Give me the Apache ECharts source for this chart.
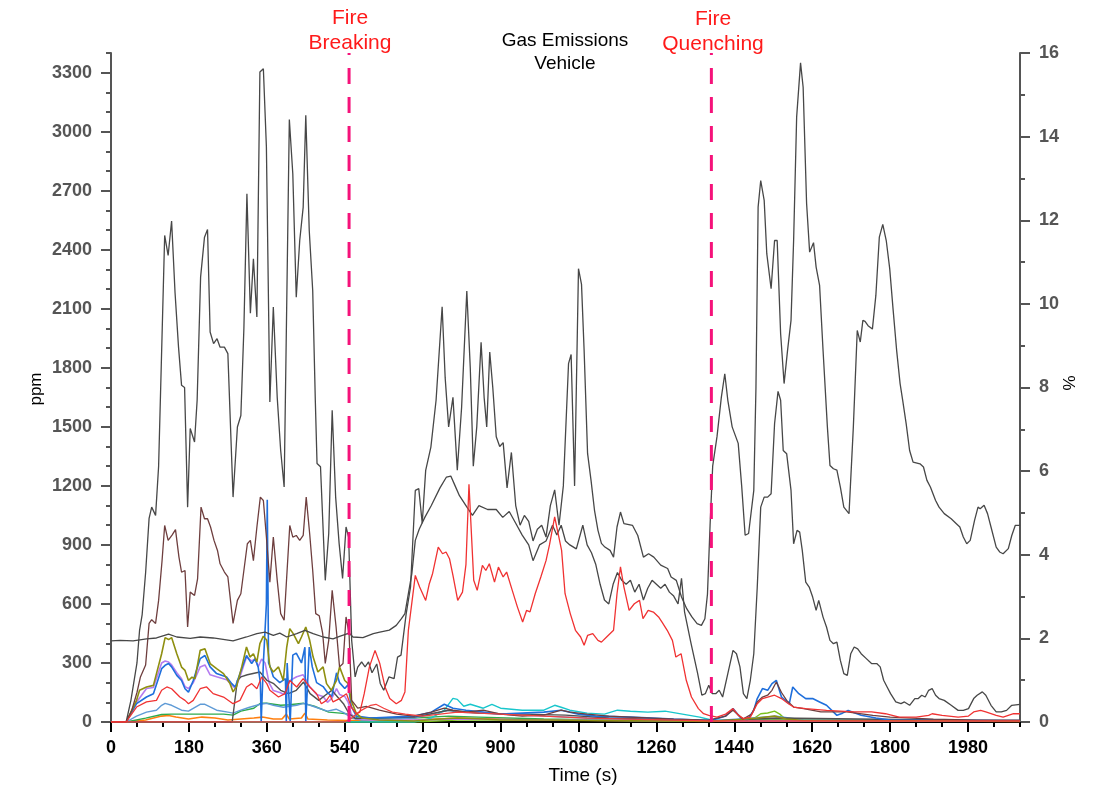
<!DOCTYPE html>
<html>
<head>
<meta charset="utf-8">
<script src="https://cdn.jsdelivr.net/npm/echarts@6/dist/echarts.min.js"></script>
<style>
html,body{margin:0;padding:0;background:#fff;}
#chart{width:1094px;height:790px;}
</style>
</head>
<body>
<div id="chart"></div>
<script>
// Axis ticks
const timeTicks = [0,180,360,540,720,900,1080,1260,1440,1620,1800,1980];
const ppmTicks = [0,300,600,900,1200,1500,1800,2100,2400,2700,3000,3300];
const pctTicks = [0,2,4,6,8,10,12,14,16];

// Event markers (s)
const fireBreaking = 550;
const fireQuenching = 1387;

// Measured traces: [time (s), ppm]
const grayHigh = [[0,0],[35,0],[46,110],[60,300],[66,466],[72,546],[80,760],[88,1035],[94,1092],[103,1050],[110,1300],[116,1800],[124,2473],[132,2371],[140,2546],[148,2180],[156,1905],[163,1711],[170,1700],[177,1092],[183,1492],[193,1423],[199,1635],[207,2261],[216,2464],[223,2503],[229,1982],[237,1923],[245,1948],[252,1905],[262,1905],[270,1872],[282,1143],[292,1499],[300,1558],[307,2000],[314,2685],[322,2078],[329,2354],[337,2058],[344,3303],[352,3320],[359,2922],[367,1626],[375,2109],[384,1650],[392,1380],[400,1194],[412,3062],[420,2786],[428,2159],[436,2447],[444,2617],[450,3083],[458,2498],[466,2193],[472,1635],[476,1314],[484,1297],[495,720],[503,958],[511,1584],[519,1143],[527,908],[535,730],[543,991],[549,940],[556,415],[564,229],[570,279],[579,305],[587,280],[595,305],[603,250],[614,295],[622,196],[630,161],[642,229],[654,220],[662,330],[670,340],[682,551],[692,686],[703,1177],[711,1186],[719,1010],[727,1279],[739,1397],[751,1635],[765,2110],[772,1750],[780,1500],[790,1650],[800,1280],[810,1600],[822,2190],[830,1800],[837,1300],[845,1500],[855,1930],[862,1650],[868,1500],[875,1880],[882,1700],[890,1450],[898,1400],[906,1420],[915,1190],[925,1370],[935,1100],[945,1000],[955,1050],[965,1020],[975,920],[985,980],[995,1000],[1005,940],[1015,1100],[1025,1180],[1035,1000],[1045,1200],[1057,1821],[1063,1868],[1071,1200],[1080,2304],[1087,2224],[1093,1889],[1101,1365],[1109,1228],[1117,1076],[1125,974],[1133,908],[1141,889],[1153,872],[1161,838],[1169,991],[1177,1067],[1185,1008],[1205,999],[1217,948],[1230,838],[1242,855],[1254,838],[1270,797],[1286,780],[1294,737],[1306,720],[1318,635],[1330,576],[1342,534],[1354,500],[1364,491],[1372,525],[1378,650],[1384,1000],[1390,1300],[1400,1450],[1410,1650],[1418,1770],[1425,1635],[1435,1500],[1449,1416],[1457,1200],[1465,949],[1473,958],[1485,1177],[1490,1700],[1495,2617],[1501,2752],[1509,2651],[1515,2380],[1525,2202],[1533,2447],[1539,2447],[1547,1973],[1555,1720],[1563,1889],[1571,2041],[1577,2447],[1584,3074],[1593,3350],[1599,3226],[1607,2635],[1614,2388],[1623,2436],[1629,2312],[1637,2219],[1645,1889],[1655,1500],[1661,1304],[1669,1287],[1677,1280],[1685,1194],[1693,1092],[1705,1059],[1715,1500],[1724,1990],[1731,1931],[1737,2041],[1742,2036],[1749,2014],[1759,1997],[1767,2168],[1775,2464],[1783,2529],[1791,2447],[1799,2304],[1807,2092],[1815,1889],[1823,1720],[1829,1635],[1837,1516],[1845,1380],[1853,1321],[1869,1312],[1877,1296],[1885,1228],[1893,1194],[1905,1126],[1913,1092],[1925,1059],[1941,1033],[1953,1008],[1961,991],[1969,940],[1977,906],[1985,923],[1995,1025],[2003,1092],[2008,1084],[2017,1101],[2025,1059],[2033,991],[2045,889],[2053,864],[2061,855],[2073,881],[2081,948],[2089,999],[2100,999]];

const grayLow = [[0,412],[21,415],[51,412],[82,422],[105,427],[133,447],[152,432],[183,425],[206,432],[236,427],[282,412],[313,432],[337,449],[356,457],[375,440],[390,452],[406,432],[429,449],[448,466],[467,449],[490,432],[513,423],[528,435],[550,452],[559,432],[582,429],[606,449],[621,457],[643,467],[659,491],[671,525],[679,551],[687,652],[695,754],[703,923],[712,980],[725,1040],[740,1100],[760,1190],[775,1245],[785,1250],[795,1200],[805,1150],[820,1100],[835,1050],[850,1100],[870,1080],[890,1080],[905,1040],[920,1070],[935,1010],[950,950],[965,900],[975,820],[990,900],[1005,920],[1020,1000],[1030,950],[1040,1000],[1050,920],[1060,900],[1075,880],[1090,1000],[1100,900],[1110,860],[1120,800],[1130,700],[1140,620],[1150,600],[1160,700],[1170,760],[1180,720],[1190,700],[1200,720],[1210,660],[1220,700],[1230,620],[1240,680],[1250,720],[1260,700],[1270,680],[1280,700],[1290,660],[1300,640],[1310,600],[1318,730],[1325,560],[1340,400],[1355,250],[1365,136],[1373,144],[1381,187],[1389,144],[1397,144],[1405,161],[1413,127],[1425,246],[1437,364],[1445,347],[1453,280],[1461,144],[1469,119],[1477,212],[1485,347],[1493,686],[1501,1092],[1509,1143],[1517,1143],[1525,1160],[1533,1516],[1541,1680],[1547,1635],[1553,1380],[1561,1363],[1571,1177],[1577,906],[1585,974],[1591,965],[1597,872],[1605,711],[1613,686],[1621,635],[1629,567],[1635,618],[1645,533],[1653,483],[1661,415],[1669,398],[1677,406],[1685,313],[1693,246],[1701,237],[1709,347],[1717,381],[1725,372],[1733,347],[1745,322],[1757,297],[1769,297],[1777,280],[1785,212],[1793,178],[1801,144],[1813,102],[1825,93],[1833,102],[1845,85],[1857,119],[1865,119],[1873,136],[1881,127],[1889,161],[1897,170],[1905,136],[1913,119],[1925,110],[1941,85],[1957,59],[1969,59],[1981,68],[1993,119],[2001,136],[2013,153],[2021,136],[2033,85],[2045,51],[2057,51],[2069,59],[2081,85],[2100,90]];

const brown = [[0,0],[35,0],[48,60],[60,150],[68,229],[80,290],[88,501],[94,520],[103,501],[110,618],[118,821],[124,999],[132,923],[141,950],[149,978],[157,838],[163,761],[171,770],[177,483],[183,660],[193,643],[200,727],[208,1092],[216,1033],[223,1033],[230,991],[238,923],[246,872],[252,804],[262,762],[270,737],[282,501],[292,618],[300,652],[315,906],[322,923],[329,820],[337,990],[345,1143],[352,1126],[359,940],[367,711],[375,940],[384,720],[392,551],[400,517],[413,999],[420,940],[428,948],[436,923],[444,948],[451,1143],[459,957],[466,770],[473,551],[481,540],[489,450],[495,298],[503,415],[511,669],[520,483],[528,280],[536,297],[543,534],[550,450],[556,110],[570,70],[590,80],[620,60],[660,40],[700,30],[740,50],[770,70],[790,60],[820,50],[860,60],[900,40],[950,30],[1000,35],[1040,60],[1060,50],[1100,40],[1150,30],[1200,25],[1250,20],[1300,15],[1380,10],[1420,30],[1437,60],[1460,15],[1480,40],[1493,102],[1505,127],[1517,136],[1527,161],[1537,203],[1549,150],[1561,110],[1577,76],[1600,68],[1640,51],[1700,51],[1760,34],[1800,25],[1900,15],[2000,10],[2100,10]];

const red = [[0,0],[35,0],[59,76],[82,102],[105,110],[117,161],[129,178],[140,169],[159,127],[171,110],[179,93],[190,110],[206,169],[221,178],[236,144],[260,127],[282,93],[298,110],[313,178],[325,195],[337,169],[348,229],[360,195],[367,161],[387,127],[402,144],[413,211],[429,178],[444,220],[459,178],[475,144],[486,93],[498,110],[506,136],[513,102],[528,119],[544,144],[555,76],[567,42],[575,50],[585,144],[597,280],[610,364],[621,297],[633,178],[644,119],[659,93],[671,110],[679,153],[687,466],[703,745],[713,686],[727,618],[735,700],[743,755],[756,889],[766,855],[774,864],[782,830],[790,745],[801,618],[812,660],[820,800],[827,1208],[838,720],[846,669],[858,796],[866,770],[874,804],[886,711],[895,787],[906,737],[914,762],[927,669],[939,584],[951,508],[960,567],[968,560],[980,652],[993,737],[1005,820],[1013,900],[1025,1042],[1033,957],[1041,872],[1049,652],[1061,551],[1073,466],[1085,432],[1093,390],[1101,440],[1113,449],[1125,415],[1133,406],[1145,432],[1161,466],[1169,652],[1177,788],[1185,686],[1197,567],[1209,601],[1221,618],[1229,525],[1241,567],[1253,559],[1265,534],[1273,508],[1285,466],[1297,415],[1305,330],[1317,347],[1329,212],[1341,127],[1357,68],[1369,42],[1381,34],[1400,25],[1420,40],[1437,68],[1449,35],[1461,17],[1477,25],[1493,93],[1505,119],[1517,127],[1533,136],[1549,119],[1565,93],[1577,76],[1605,68],[1653,59],[1717,51],[1757,51],[1789,42],[1805,34],[1821,25],[1860,25],[1889,34],[1897,42],[1920,34],[1957,25],[1981,30],[1993,51],[2009,59],[2021,51],[2045,34],[2061,25],[2085,42],[2100,42]];

const redLow = [[0,0],[540,0],[556,20],[575,55],[600,85],[612,90],[630,70],[650,50],[680,40],[720,30],[760,40],[800,50],[850,45],[900,40],[950,35],[1000,30],[1050,25],[1100,20],[1200,15],[1300,10],[1387,5],[2100,5]];

const olive = [[0,0],[35,0],[59,110],[66,161],[82,178],[98,186],[117,347],[125,429],[133,419],[140,429],[152,347],[163,279],[171,262],[179,211],[187,228],[194,220],[206,364],[217,372],[229,297],[244,271],[260,246],[275,195],[282,153],[290,180],[302,280],[313,381],[321,330],[329,347],[337,305],[344,398],[352,436],[360,415],[367,280],[375,254],[387,280],[398,211],[406,381],[413,474],[421,449],[433,398],[440,432],[450,483],[459,415],[467,330],[478,254],[490,280],[498,195],[509,161],[521,211],[528,280],[540,211],[548,195],[555,110],[567,42],[580,20],[620,10],[700,5],[760,15],[800,20],[860,15],[900,10],[1000,10],[1100,8],[1300,5],[1387,3],[1437,10],[1493,20],[1533,30],[1560,15],[1600,8],[2100,5]];

const blue = [[0,0],[35,0],[59,93],[82,127],[98,144],[117,271],[125,288],[133,297],[140,280],[152,237],[163,211],[171,169],[179,152],[190,211],[206,322],[217,338],[229,280],[244,246],[267,229],[279,195],[287,178],[298,246],[313,338],[325,297],[333,322],[340,280],[345,200],[347,0],[352,300],[356,290],[359,600],[361,1130],[364,300],[368,280],[375,230],[390,200],[403,220],[405,0],[407,300],[414,0],[420,340],[428,350],[440,300],[448,380],[450,0],[458,381],[465,280],[475,200],[490,180],[500,150],[510,130],[521,250],[528,200],[540,170],[548,190],[555,80],[567,30],[600,20],[650,25],[700,30],[740,50],[770,90],[790,70],[820,60],[860,50],[900,40],[950,45],[1000,50],[1040,60],[1080,40],[1120,30],[1200,25],[1300,15],[1387,8],[1420,30],[1437,68],[1455,20],[1470,10],[1485,60],[1493,119],[1505,170],[1517,161],[1527,195],[1537,212],[1549,127],[1567,93],[1575,178],[1589,144],[1605,119],[1621,119],[1637,102],[1653,85],[1677,34],[1690,45],[1703,59],[1733,34],[1767,20],[1800,10],[2100,8]];

const purple = [[0,0],[35,0],[59,100],[82,170],[98,175],[117,300],[125,310],[133,305],[140,290],[152,250],[163,220],[171,180],[179,170],[190,200],[206,280],[217,290],[229,240],[244,230],[267,215],[279,190],[287,170],[298,230],[313,330],[325,310],[333,320],[340,280],[348,320],[356,300],[365,200],[375,160],[390,150],[400,140],[413,210],[429,230],[444,240],[459,180],[475,140],[490,130],[500,100],[510,120],[521,170],[528,140],[540,130],[548,100],[555,40],[567,15],[600,10],[700,10],[800,15],[1000,10],[1387,5],[2100,5]];

const steel = [[0,0],[35,0],[59,30],[82,50],[105,60],[117,85],[125,95],[140,85],[163,60],[179,55],[206,90],[217,90],[244,60],[270,50],[282,45],[300,60],[320,75],[345,90],[360,95],[375,85],[398,75],[413,80],[429,85],[445,95],[460,85],[480,70],[500,55],[520,65],[540,45],[555,20],[580,10],[700,20],[780,60],[800,50],[900,40],[1000,30],[1100,20],[1200,15],[1387,5],[1537,30],[1600,10],[2100,5]];

const green = [[0,0],[35,0],[80,20],[117,38],[140,40],[200,40],[260,40],[282,35],[300,55],[330,70],[345,95],[360,95],[392,85],[412,88],[445,95],[470,80],[503,50],[530,45],[549,40],[570,20],[600,15],[700,20],[780,30],[850,25],[1000,15],[1200,8],[1387,5],[1500,10],[2100,3]];

const orange = [[0,0],[35,0],[80,10],[117,30],[133,33],[150,25],[179,15],[210,25],[240,20],[270,10],[300,15],[330,20],[350,25],[375,15],[395,15],[405,40],[412,15],[440,20],[448,45],[455,15],[500,10],[550,8],[700,10],[800,20],[900,15],[1000,10],[1387,5],[1537,10],[2100,3]];

const cyan = [[0,0],[700,0],[740,20],[770,60],[790,120],[800,115],[815,80],[830,90],[860,70],[880,90],[900,70],[950,60],[1000,60],[1025,85],[1040,75],[1060,60],[1100,45],[1140,40],[1170,60],[1200,55],[1240,50],[1280,55],[1320,40],[1360,25],[1387,10],[1450,5],[2100,3]];

const lime = [[0,0],[700,0],[800,10],[1000,10],[1387,5],[1480,10],[1501,42],[1517,46],[1533,55],[1545,40],[1555,20],[1600,10],[2100,5]];

const graySmall = [[0,0],[280,0],[292,212],[300,229],[315,240],[344,254],[360,212],[376,195],[392,161],[410,144],[428,161],[445,203],[460,144],[480,110],[495,136],[510,161],[537,93],[550,42],[565,17],[600,20],[700,25],[780,60],[850,45],[950,40],[1050,35],[1150,20],[1387,5],[1537,20],[2100,5]];

const traces = [
  {name:'orange', data:orange, color:'#ff7f0e', w:1.6},
  {name:'green', data:green, color:'#2eaa4c', w:1.4},
  {name:'lime', data:lime, color:'#7cc21c', w:1.4},
  {name:'steel', data:steel, color:'#5f9bd6', w:1.4},
  {name:'cyan', data:cyan, color:'#18c6cc', w:1.4},
  {name:'purple', data:purple, color:'#b57cf0', w:1.6},
  {name:'graySmall', data:graySmall, color:'#505050', w:1.4},
  {name:'blue', data:blue, color:'#1f6fdc', w:1.6},
  {name:'olive', data:olive, color:'#8f8f10', w:1.6},
  {name:'brown', data:brown, color:'#6e3e3e', w:1.3},
  {name:'grayLow', data:grayLow, color:'#474747', w:1.3},
  {name:'grayHigh', data:grayHigh, color:'#474747', w:1.3},
  {name:'redLow', data:redLow, color:'#f2403f', w:1.3},
  {name:'red', data:red, color:'#f03232', w:1.3}
];

const FONT = 'Liberation Sans, Arial, sans-serif';
const plain = v => String(v);
const lineSeries = traces.map(t => ({
  name: t.name, type: 'line', data: t.data, xAxisIndex: 0, yAxisIndex: 0,
  showSymbol: false, symbol: 'none', silent: true,
  lineStyle: {color: t.color, width: t.w}, z: 3
}));

function marker(x) {
  return {
    type: 'line', data: [[x, 0], [x, 3400]], xAxisIndex: 0, yAxisIndex: 0,
    symbol: 'none', silent: true, z: 6,
    lineStyle: {color: '#f5127a', width: 3, type: [16, 13]}
  };
}

const chart = echarts.init(document.getElementById('chart'), null, {renderer: 'canvas'});
chart.setOption({
  animation: false,
  backgroundColor: '#fff',
  grid: {left: 111, right: 74, top: 53, bottom: 68, containLabel: false},
  xAxis: [
    {
      type: 'value', min: 0, max: 2100, interval: 180, position: 'bottom',
      axisLine: {onZero: false, lineStyle: {color: '#000', width: 2}},
      axisTick: {length: 10, customValues: timeTicks, lineStyle: {color: '#000', width: 2}},
      axisLabel: {customValues: timeTicks, formatter: plain, color: '#000', fontWeight: 'bold', fontSize: 18, fontFamily: FONT, margin: 17},
      splitLine: {show: false}
    },
    {
      type: 'value', min: 0, max: 2100, interval: 60, position: 'bottom',
      axisLine: {show: false, onZero: false},
      axisTick: {length: 5, lineStyle: {color: '#000', width: 2}},
      axisLabel: {show: false}, splitLine: {show: false}
    }
  ],
  yAxis: [
    {
      type: 'value', min: 0, max: 3400, interval: 300, position: 'left',
      axisLine: {show: true, onZero: false, lineStyle: {color: '#555', width: 2}},
      axisTick: {length: 10, customValues: ppmTicks, lineStyle: {color: '#555', width: 2}},
      axisLabel: {customValues: ppmTicks, formatter: plain, color: '#555', fontWeight: 'bold', fontSize: 18, fontFamily: FONT, margin: 19},
      splitLine: {show: false}
    },
    {
      type: 'value', min: 0, max: 16, interval: 2, position: 'right',
      axisLine: {show: true, onZero: false, lineStyle: {color: '#555', width: 2}},
      axisTick: {length: 10, lineStyle: {color: '#555', width: 2}},
      minorTick: {show: true, splitNumber: 2, length: 5, lineStyle: {color: '#555', width: 2}},
      axisLabel: {customValues: pctTicks, formatter: plain, color: '#555', fontWeight: 'bold', fontSize: 18, fontFamily: FONT, margin: 19},
      splitLine: {show: false}
    },
    {
      type: 'value', min: 0, max: 3400, interval: 100, position: 'left',
      axisLine: {show: false, onZero: false},
      axisTick: {length: 5, lineStyle: {color: '#555', width: 2}},
      axisLabel: {show: false}, splitLine: {show: false}
    }
  ],
  graphic: [
    {type: 'text', x: 36, y: 389, rotation: Math.PI / 2,
     style: {text: 'ppm', fill: '#000', font: '17px ' + FONT, textAlign: 'center', textVerticalAlign: 'middle'}},
    {type: 'text', x: 1070, y: 383, rotation: Math.PI / 2,
     style: {text: '%', fill: '#000', font: '17px ' + FONT, textAlign: 'center', textVerticalAlign: 'middle'}},
    {type: 'text', x: 583, y: 776,
     style: {text: 'Time (s)', fill: '#000', font: '19px ' + FONT, textAlign: 'center', textVerticalAlign: 'middle'}},
    {type: 'text', x: 350, y: 31,
     style: {text: 'Fire\nBreaking', fill: '#ff1a1a', font: '21px ' + FONT, lineHeight: 25, textAlign: 'center', textVerticalAlign: 'middle'}},
    {type: 'text', x: 565, y: 52,
     style: {text: 'Gas Emissions\nVehicle', fill: '#000', font: '19px ' + FONT, lineHeight: 23, textAlign: 'center', textVerticalAlign: 'middle'}},
    {type: 'text', x: 713, y: 32,
     style: {text: 'Fire\nQuenching', fill: '#ff1a1a', font: '21px ' + FONT, lineHeight: 25, textAlign: 'center', textVerticalAlign: 'middle'}}
  ],
  series: lineSeries.concat([marker(fireBreaking), marker(fireQuenching)])
});
</script>
</body>
</html>
